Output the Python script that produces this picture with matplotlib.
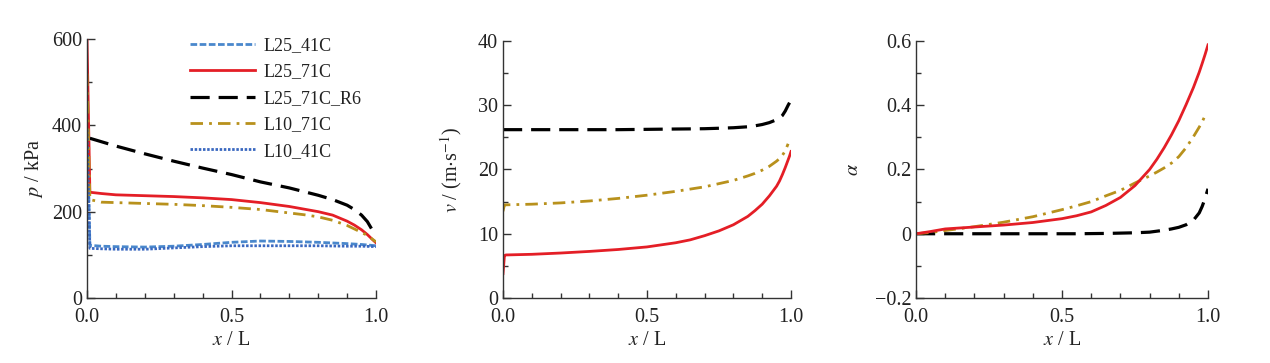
import numpy as np
import matplotlib
matplotlib.use("Agg")
import matplotlib.pyplot as plt
from matplotlib.ticker import MultipleLocator

plt.rcParams['font.family'] = ['Liberation Serif', 'DejaVu Serif']
plt.rcParams['mathtext.fontset'] = 'stix'

# ---------------- data ----------------
labels = ["L25_41C", "L25_71C", "L25_71C_R6", "L10_71C", "L10_41C"]

# pressure panel
xp = [0, 0.01, 0.05, 0.1, 0.2, 0.3, 0.4, 0.5, 0.6, 0.7, 0.75, 0.8, 0.85, 0.9, 0.925, 0.95, 0.97, 0.99, 1.0]
p_L25_71C = [600, 245, 242, 239, 237, 235, 232, 228, 221, 212, 206, 200, 192, 178, 169, 158, 147, 134, 128]
p_L10_71C = [520, 228, 222, 221, 219, 217, 214, 210, 205, 197, 193, 188, 180, 168, 160, 152, 145, 135, 130]
xp_r6 = [0.01, 0.1, 0.2, 0.3, 0.4, 0.5, 0.6, 0.7, 0.8, 0.85, 0.9, 0.925, 0.95, 0.97, 0.985, 0.99]
p_L25_71C_R6 = [370, 352, 334, 317, 301, 286, 269, 255, 238, 228, 215, 205, 192, 177, 160, 150]
xp_b = [0, 0.01, 0.05, 0.1, 0.2, 0.3, 0.4, 0.5, 0.6, 0.7, 0.8, 0.9, 0.95, 1.0]
p_L25_41C = [430, 122, 120, 119, 118, 120, 124, 129, 132, 131, 129, 126, 124, 121]
p_L10_41C = [390, 115, 114, 113, 113, 116, 119, 121, 121, 121, 121, 120, 120, 119]

# velocity panel
xv = [0, 0.005, 0.01, 0.1, 0.2, 0.3, 0.4, 0.5, 0.6, 0.65, 0.7, 0.75, 0.8, 0.85, 0.875, 0.9,
      0.925, 0.95, 0.96, 0.97, 0.98, 0.99, 0.995, 1.0]
v_L25_71C = [3.8, 6.6, 6.7, 6.8, 7.0, 7.25, 7.55, 7.95, 8.6, 9.05, 9.7, 10.45, 11.4, 12.7, 13.6, 14.6,
             15.9, 17.4, 18.2, 19.2, 20.3, 21.5, 22.1, 22.8]
v_L10_71C = [13.5, 14.5, 14.5, 14.6, 14.8, 15.1, 15.5, 16.0, 16.6, 16.95, 17.3, 17.8, 18.3, 19.0, 19.4, 19.9,
             20.5, 21.3, 21.7, 22.2, 22.9, 24.0, np.nan, np.nan]
v_L25_71C_R6 = [26.2, 26.2, 26.2, 26.2, 26.2, 26.2, 26.2, 26.25, 26.3, 26.32, 26.35, 26.42, 26.5, 26.65, 26.8, 27.0,
                27.3, 27.75, 28.0, 28.4, 29.1, 30.0, 30.4, np.nan]

# void fraction panel
xa = [0, 0.05, 0.1, 0.2, 0.3, 0.4, 0.5, 0.55, 0.6, 0.65, 0.7, 0.75, 0.8, 0.825, 0.85, 0.875, 0.9,
      0.925, 0.95, 0.97, 0.98, 0.99, 1.0]
a_L25_71C = [0, 0.007, 0.015, 0.021, 0.027, 0.035, 0.047, 0.056, 0.068, 0.088, 0.113, 0.15, 0.2, 0.232,
             0.268, 0.308, 0.352, 0.402, 0.455, 0.503, 0.53, 0.558, 0.588]
a_L10_71C = [0, 0.004, 0.01, 0.022, 0.036, 0.053, 0.075, 0.087, 0.10, 0.118, 0.135, 0.158, 0.18, 0.192,
             0.205, 0.22, 0.24, 0.268, 0.302, 0.332, 0.348, 0.368, np.nan]
a_L25_71C_R6 = [0, 0, 0, 0, 0, 0, 0, 0, 0.0005, 0.001, 0.002, 0.003, 0.005, 0.008, 0.011, 0.015, 0.02,
                0.028, 0.042, 0.065, 0.085, 0.11, 0.14]

# ---------------- styles ----------------
RED = '#e41e26'
GOLD = '#b8911c'
BLUE1 = '#4a88cc'
BLUE2 = '#3a68c0'
BLACK = '#000000'

st_b1 = dict(color=BLUE1, lw=2.0, dashes=(2.4, 0.9))
st_red = dict(color=RED, lw=2.0, linestyle='-')
st_blk = dict(color=BLACK, lw=2.3, dashes=(6, 2.8))
st_gold = dict(color=GOLD, lw=2.0, dashes=(4.5, 2.2, 1, 2.2))
st_b2 = dict(color=BLUE2, lw=2.0, dashes=(0.9, 0.6))

fig = plt.figure(figsize=(12.7, 3.63), dpi=100)
W, H = 1270, 363

def make_ax(l, r, t, b):
    return fig.add_axes([l / W, 1 - b / H, (r - l) / W, (b - t) / H])

ax1 = make_ax(87, 376, 39, 298)
ax2 = make_ax(503, 791, 41, 298)
ax3 = make_ax(916, 1208, 41, 298)

SPINE = '#333333'
for ax in (ax1, ax2, ax3):
    for s in ('top', 'right'):
        ax.spines[s].set_visible(False)
    for s in ('left', 'bottom'):
        ax.spines[s].set_color(SPINE)
        ax.spines[s].set_linewidth(1.0)
    ax.tick_params(which='both', direction='in', colors=SPINE, labelcolor='#222222',
                   labelsize=14.5, width=1.0)
    ax.tick_params(which='major', length=6)
    ax.tick_params(which='minor', length=3.5)
    ax.tick_params(axis='x', pad=7)
    ax.set_xlim(0, 1.0)
    ax.xaxis.set_major_locator(MultipleLocator(0.5))
    ax.xaxis.set_minor_locator(MultipleLocator(0.1))
    ax.xaxis.set_major_formatter(matplotlib.ticker.FormatStrFormatter('%.1f'))
    ax.set_xlabel(r'$x$ / L', fontsize=14.5, color='#222222', labelpad=3)

# panel 1
ax1.plot(xp_b, p_L25_41C, label=labels[0], **st_b1)
ax1.plot(xp, p_L25_71C, label=labels[1], **st_red)
ax1.plot(xp_r6, p_L25_71C_R6, label=labels[2], **st_blk)
ax1.plot(xp, p_L10_71C, label=labels[3], **st_gold)
ax1.plot(xp_b, p_L10_41C, label=labels[4], **st_b2)
ax1.set_ylim(0, 600)
ax1.yaxis.set_major_locator(MultipleLocator(200))
ax1.yaxis.set_minor_locator(MultipleLocator(100))
ax1.set_ylabel(r'$p$ / kPa', fontsize=14.5, color='#222222', labelpad=5)
leg = ax1.legend(loc='upper left', bbox_to_anchor=(0.33, 1.035), frameon=False,
                 fontsize=13, handlelength=3.6, handletextpad=0.5,
                 labelspacing=0.52, borderaxespad=0)
for t in leg.get_texts():
    t.set_color('#222222')

# panel 2
ax2.plot(xv, v_L25_71C, **st_red)
ax2.plot(xv, v_L10_71C, **st_gold)
ax2.plot(xv, v_L25_71C_R6, **st_blk)
ax2.set_ylim(0, 40)
ax2.yaxis.set_major_locator(MultipleLocator(10))
ax2.yaxis.set_minor_locator(MultipleLocator(5))
ax2.set_ylabel(r'$v$ / (m$\cdot$s$^{-1}$)', fontsize=14.5, color='#222222', labelpad=10)

# panel 3
ax3.plot(xa, a_L25_71C_R6, **st_blk)
ax3.plot(xa, a_L10_71C, **st_gold)
ax3.plot(xa, a_L25_71C, **st_red)
ax3.set_ylim(-0.2, 0.6)
ax3.yaxis.set_major_locator(MultipleLocator(0.2))
ax3.yaxis.set_minor_locator(MultipleLocator(0.1))
ax3.yaxis.set_major_formatter(matplotlib.ticker.FuncFormatter(
    lambda v, pos: '0' if abs(v) < 1e-9 else ('\u22120.%d' % round(abs(v) * 10) if v < 0 else '%.1f' % v)))
ax3.set_ylabel(r'$\alpha$', fontsize=14.5, color='#222222', labelpad=8)

fig.savefig('out.png', dpi=100)
